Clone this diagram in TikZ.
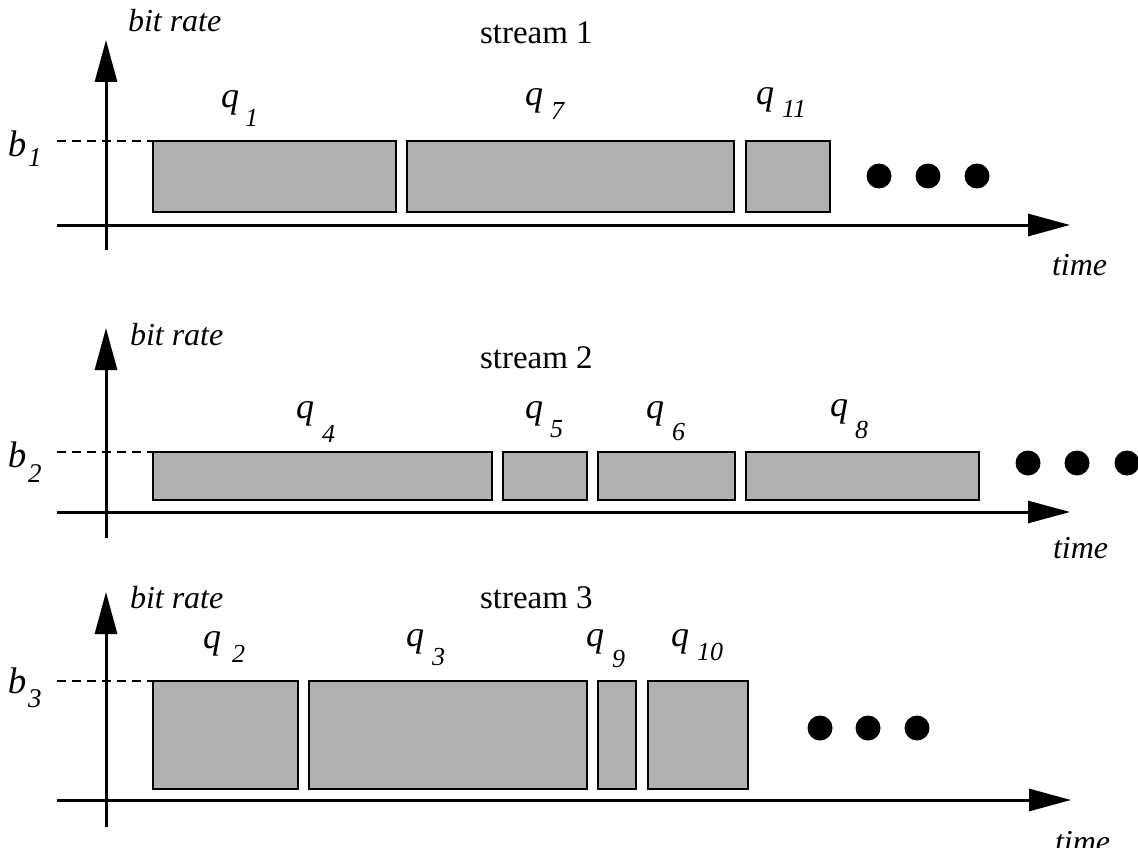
\documentclass[tikz,border=0pt]{standalone}
\usepackage{fontspec}
\setmainfont{Liberation Serif}
\usetikzlibrary{arrows.meta}
\newcommand\fsz[1]{\fontsize{#1}{#1}\selectfont}
\definecolor{boxgray}{gray}{0.69}
\tikzset{
  axisline/.style={line width=3pt,-{Triangle[length=42pt,width=22pt]}},
  dashline/.style={line width=1.4pt,dash pattern=on 9pt off 6pt},
  qbox/.style={draw,line width=2pt,fill=boxgray,inner sep=0pt,outer sep=0pt,anchor=north west},
  dot/.style={circle,fill=black,inner sep=0pt,minimum size=25pt},
  txt/.style={inner sep=0pt,outer sep=0pt,anchor=base west},
  ital/.style={txt,font=\fsz{32pt}\itshape},
  qlab/.style={txt,font=\fsz{36pt}\itshape},
  roman/.style={txt,font=\fsz{33pt}},
  sub/.style={txt,font=\fsz{26pt}\itshape},
  blab/.style={txt,font=\fsz{37pt}\itshape},
  bsub/.style={txt,font=\fsz{27pt}\itshape}
}
\begin{document}
\begin{tikzpicture}[x=1pt,y=-1pt]
\useasboundingbox (0,0) rectangle (1138,848);
\clip (0,0) rectangle (1138,848);
\fill[white] (0,0) rectangle (1138,848);

% ---------------- Panel 1 ----------------
\coordinate (x1s) at (57,225);
\coordinate (x1e) at (1070,225);
\coordinate (y1s) at (106,250);
\coordinate (y1e) at (106,40);
\coordinate (d1s) at (57,141);
\coordinate (d1e) at (153,141);
\draw[axisline] (x1s) -- (x1e);
\draw[axisline] (y1s) -- (y1e);
\draw[dashline] (d1s) -- (d1e);
\node[qbox,minimum width=243pt,minimum height=71pt] (q1box) at (153,141) {};
\node[qbox,minimum width=327pt,minimum height=71pt] (q7box) at (407,141) {};
\node[qbox,minimum width=84pt,minimum height=71pt] (q11box) at (746,141) {};
\node[dot] (dot11) at (879,176) {};
\node[dot] (dot12) at (928,176) {};
\node[dot] (dot13) at (977,176) {};
\node[ital] (br1) at (128,32) {bit rate};
\node[roman] (st1) at (480,44) {stream 1};
\node[ital] (tm1) at (1052,275) {time};
\node[blab] (b1) at (8,157) {b};
\node[bsub] (b1s) at (28,167) {1};
\node[qlab] (q1) at (221,108) {q};
\node[sub] (q1s) at (245,127) {1};
\node[qlab] (q7) at (525,106) {q};
\node[sub] (q7s) at (551,120) {7};
\node[qlab] (q11) at (756,105) {q};
\node[sub] (q11s) at (782,118) {11};

% ---------------- Panel 2 ----------------
\coordinate (x2s) at (57,512);
\coordinate (x2e) at (1070,512);
\coordinate (y2s) at (106,538);
\coordinate (y2e) at (106,328);
\coordinate (d2s) at (57,452);
\coordinate (d2e) at (153,452);
\draw[axisline] (x2s) -- (x2e);
\draw[axisline] (y2s) -- (y2e);
\draw[dashline] (d2s) -- (d2e);
\node[qbox,minimum width=339pt,minimum height=48pt] (q4box) at (153,452) {};
\node[qbox,minimum width=84pt,minimum height=48pt] (q5box) at (503,452) {};
\node[qbox,minimum width=137pt,minimum height=48pt] (q6box) at (598,452) {};
\node[qbox,minimum width=233pt,minimum height=48pt] (q8box) at (746,452) {};
\node[dot] (dot21) at (1028,463) {};
\node[dot] (dot22) at (1077,463) {};
\node[dot] (dot23) at (1127,463) {};
\node[ital] (br2) at (130,345) {bit rate};
\node[roman] (st2) at (480,368) {stream 2};
\node[ital] (tm2) at (1053,558) {time};
\node[blab] (b2) at (8,467) {b};
\node[bsub] (b2s) at (28,482) {2};
\node[qlab] (q4) at (296,418) {q};
\node[sub] (q4s) at (322,442) {4};
\node[qlab] (q5) at (525,418) {q};
\node[sub] (q5s) at (550,437) {5};
\node[qlab] (q6) at (646,418) {q};
\node[sub] (q6s) at (672,440) {6};
\node[qlab] (q8) at (830,416) {q};
\node[sub] (q8s) at (855,438) {8};

% ---------------- Panel 3 ----------------
\coordinate (x3s) at (57,800);
\coordinate (x3e) at (1071,800);
\coordinate (y3s) at (106,827);
\coordinate (y3e) at (106,592);
\coordinate (d3s) at (57,681);
\coordinate (d3e) at (153,681);
\draw[axisline] (x3s) -- (x3e);
\draw[axisline] (y3s) -- (y3e);
\draw[dashline] (d3s) -- (d3e);
\node[qbox,minimum width=145pt,minimum height=108pt] (q2box) at (153,681) {};
\node[qbox,minimum width=278pt,minimum height=108pt] (q3box) at (309,681) {};
\node[qbox,minimum width=38pt,minimum height=108pt] (q9box) at (598,681) {};
\node[qbox,minimum width=100pt,minimum height=108pt] (q10box) at (648,681) {};
\node[dot] (dot31) at (820,728) {};
\node[dot] (dot32) at (868,728) {};
\node[dot] (dot33) at (917,728) {};
\node[ital] (br3) at (130,608) {bit rate};
\node[roman] (st3) at (480,608) {stream 3};
\node[ital] (tm3) at (1055,852) {time};
\node[blab] (b3) at (8,693) {b};
\node[bsub] (b3s) at (28,707) {3};
\node[qlab] (q2) at (203,648) {q};
\node[sub] (q2s) at (232,662) {2};
\node[qlab] (q3) at (406,646) {q};
\node[sub] (q3s) at (432,665) {3};
\node[qlab] (q9) at (586,646) {q};
\node[sub] (q9s) at (612,667) {9};
\node[qlab] (q10) at (671,646) {q};
\node[sub] (q10s) at (697,660) {10};
\end{tikzpicture}
\end{document}
